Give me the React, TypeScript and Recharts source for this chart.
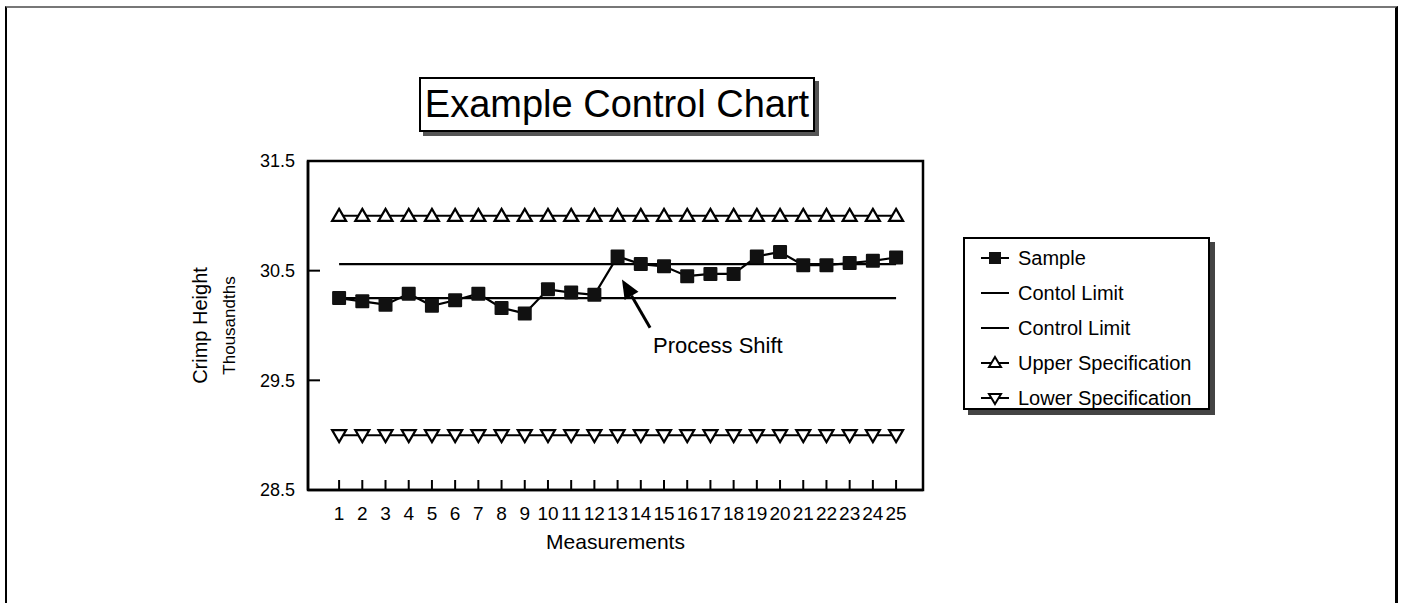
import {
  LineChart,
  Line,
  XAxis,
  YAxis,
  Legend,
  ReferenceArea,
  ReferenceLine,
  ReferenceDot,
} from "recharts"

const FONT = '"Liberation Sans", Arial, sans-serif'

// measurement numbers along the x axis
const MEASUREMENTS = [
  1, 2, 3, 4, 5, 6, 7, 8, 9, 10, 11, 12, 13, 14, 15, 16, 17, 18, 19, 20, 21, 22, 23, 24, 25,
]
// crimp height readings
const SAMPLE = [
  30.25, 30.22, 30.19, 30.29, 30.18, 30.23, 30.29, 30.16, 30.11, 30.33, 30.3, 30.28, 30.63,
  30.56, 30.54, 30.45, 30.47, 30.47, 30.63, 30.67, 30.55, 30.55, 30.57, 30.59, 30.62,
]
const CONTOL_LIMIT = 30.56
const CONTROL_LIMIT = 30.25
const UPPER_SPEC = 31.0
const LOWER_SPEC = 29.0

const Y_TICKS = [28.5, 29.5, 30.5, 31.5]
const X_DOMAIN = [-0.34, 26.16]

const SERIES_NAMES = [
  "Sample",
  "Contol Limit",
  "Control Limit",
  "Upper Specification",
  "Lower Specification",
]

// annotation, in data units
const SHIFT_TAIL = { x: 14.4, y: 29.98 }
const SHIFT_TIP = { x: 13.19, y: 30.42 }
const SHIFT_TEXT = { x: 14.53, y: 29.82 }

const rows = MEASUREMENTS.map((m, i) => ({
  x: m,
  sample: SAMPLE[i],
  contol: CONTOL_LIMIT,
  control: CONTROL_LIMIT,
  upper: UPPER_SPEC,
  lower: LOWER_SPEC,
}))

const squareDot = (p: any) => (
  <rect key={`sq-${p.index}`} x={p.cx - 7} y={p.cy - 7} width={14} height={14} rx={1} fill="#111" />
)

const upDot = (p: any) => (
  <polygon
    key={`up-${p.index}`}
    points={`${p.cx},${p.cy - 7} ${p.cx + 7},${p.cy + 5} ${p.cx - 7},${p.cy + 5}`}
    fill="#fff"
    stroke="#000"
    strokeWidth={2.2}
  />
)

const downDot = (p: any) => (
  <polygon
    key={`dn-${p.index}`}
    points={`${p.cx},${p.cy + 7} ${p.cx + 7},${p.cy - 5} ${p.cx - 7},${p.cy - 5}`}
    fill="#fff"
    stroke="#000"
    strokeWidth={2.2}
  />
)

// arrow from tail to tip with filled head
const arrowShape = (p: any) => {
  const { x1, y1, x2, y2 } = p
  const dx = x2 - x1
  const dy = y2 - y1
  const len = Math.hypot(dx, dy) || 1
  const ux = dx / len
  const uy = dy / len
  const bx = x2 - ux * 19
  const by = y2 - uy * 19
  return (
    <g>
      <line x1={x1} y1={y1} x2={bx} y2={by} stroke="#000" strokeWidth={3} />
      <polygon
        points={`${x2},${y2} ${bx - uy * 8},${by + ux * 8} ${bx + uy * 8},${by - ux * 8}`}
        fill="#000"
      />
    </g>
  )
}

const shiftText = (p: any) => (
  <text x={p.cx} y={p.cy} fontSize={22} fontFamily={FONT} fill="#000" dominantBaseline="central">
    Process Shift
  </text>
)

const YTitle = (props: any) => {
  const vb = props.viewBox || { x: 188, y: 161, width: 120, height: 329 }
  const cy = vb.y + vb.height / 2
  const a = vb.x + 19
  const b = vb.x + 47
  return (
    <g fontFamily={FONT} fill="#000">
      <text x={a} y={cy} fontSize={20} textAnchor="middle" transform={`rotate(-90 ${a} ${cy})`}>
        Crimp Height
      </text>
      <text x={b} y={cy} fontSize={17} textAnchor="middle" transform={`rotate(-90 ${b} ${cy})`}>
        Thousandths
      </text>
    </g>
  )
}

const legendIcon = (i: number, cy: number) => {
  const line = <line x1={16} y1={cy} x2={44} y2={cy} stroke="#000" strokeWidth={2} />
  if (i === 0)
    return (
      <g key={i}>
        {line}
        <rect x={24} y={cy - 6} width={12} height={12} fill="#111" />
      </g>
    )
  if (i === 3)
    return (
      <g key={i}>
        {line}
        <polygon points={`30,${cy - 6} 36,${cy + 4} 24,${cy + 4}`} fill="#fff" stroke="#000" strokeWidth={2} />
      </g>
    )
  if (i === 4)
    return (
      <g key={i}>
        {line}
        <polygon points={`30,${cy + 6} 36,${cy - 4} 24,${cy - 4}`} fill="#fff" stroke="#000" strokeWidth={2} />
      </g>
    )
  return <g key={i}>{line}</g>
}

const LegendBox = () => (
  <div
    style={{
      width: 247,
      height: 173,
      boxSizing: "border-box",
      border: "2px solid #000",
      boxShadow: "5px 5px 0 #444",
      background: "#fff",
    }}
  >
    <svg width={243} height={169} style={{ display: "block" }}>
      {SERIES_NAMES.map((name, i) => {
        const cy = 19 + 35 * i
        return (
          <g key={name}>
            {legendIcon(i, cy)}
            <text x={53} y={cy} fontSize={20} fontFamily={FONT} dominantBaseline="central" fill="#000">
              {name}
            </text>
          </g>
        )
      })}
    </svg>
  </div>
)

export default function App() {
  return (
    <div
      style={{
        position: "fixed",
        left: 0,
        top: 0,
        width: 1402,
        height: 603,
        overflow: "hidden",
        background: "#fff",
        fontFamily: FONT,
      }}
    >
      <div
        style={{
          position: "absolute",
          left: 5,
          top: 6,
          width: 1388,
          height: 700,
          borderLeft: "2px solid #000",
          borderTop: "2px solid #777",
          borderRight: "3px solid #000",
        }}
      />
      <div
        style={{
          position: "absolute",
          left: 419,
          top: 77,
          width: 396,
          height: 55,
          boxSizing: "border-box",
          border: "2px solid #000",
          boxShadow: "4px 4px 0 #555",
          background: "#fff",
          fontSize: 38,
          lineHeight: "51px",
          textAlign: "center",
          color: "#000",
          whiteSpace: "nowrap",
        }}
      >
        Example Control Chart
      </div>
      <LineChart
        width={1402}
        height={603}
        data={rows}
        margin={{ top: 161, right: 479, bottom: 53, left: 188 }}
        style={{ position: "absolute", left: 0, top: 0 }}
      >
        <ReferenceArea
          x1={X_DOMAIN[0]}
          x2={X_DOMAIN[1]}
          y1={Y_TICKS[0]}
          y2={Y_TICKS[Y_TICKS.length - 1]}
          fill="none"
          stroke="#000"
          strokeWidth={2.5}
          fillOpacity={0}
        />
        <XAxis
          dataKey="x"
          type="number"
          domain={X_DOMAIN}
          ticks={MEASUREMENTS}
          interval={0}
          height={60}
          tickSize={-10}
          tickMargin={27}
          axisLine={{ stroke: "#000", strokeWidth: 2.5 }}
          tickLine={{ stroke: "#000", strokeWidth: 2 }}
          tick={{ fill: "#000", fontSize: 19, fontFamily: FONT }}
          label={{
            value: "Measurements",
            position: "insideBottom",
            offset: 1,
            fill: "#000",
            fontSize: 21,
            fontFamily: FONT,
          }}
        />
        <YAxis
          type="number"
          domain={[Y_TICKS[0], Y_TICKS[Y_TICKS.length - 1]]}
          ticks={Y_TICKS}
          interval={0}
          width={120}
          tickSize={-12}
          tickMargin={25}
          tickFormatter={(v) => Number(v).toFixed(1)}
          axisLine={{ stroke: "#000", strokeWidth: 2.5 }}
          tickLine={{ stroke: "#000", strokeWidth: 2 }}
          tick={{ fill: "#000", fontSize: 18, fontFamily: FONT }}
          label={<YTitle />}
        />
        <Legend
          layout="vertical"
          align="center"
          verticalAlign="middle"
          wrapperStyle={{ left: 963, top: 237, width: 252, height: 178 }}
          content={() => <LegendBox />}
        />
        <Line dataKey="upper" name={SERIES_NAMES[3]} stroke="#000" strokeWidth={2} dot={upDot} isAnimationActive={false} />
        <Line dataKey="lower" name={SERIES_NAMES[4]} stroke="#000" strokeWidth={2} dot={downDot} isAnimationActive={false} />
        <Line dataKey="contol" name={SERIES_NAMES[1]} stroke="#000" strokeWidth={2.2} dot={false} isAnimationActive={false} />
        <Line dataKey="control" name={SERIES_NAMES[2]} stroke="#000" strokeWidth={2.2} dot={false} isAnimationActive={false} />
        <Line dataKey="sample" name={SERIES_NAMES[0]} stroke="#000" strokeWidth={2.2} dot={squareDot} isAnimationActive={false} />
        <ReferenceLine segment={[SHIFT_TAIL, SHIFT_TIP]} shape={arrowShape} />
        <ReferenceDot x={SHIFT_TEXT.x} y={SHIFT_TEXT.y} r={0} shape={shiftText} />
      </LineChart>
    </div>
  )
}
